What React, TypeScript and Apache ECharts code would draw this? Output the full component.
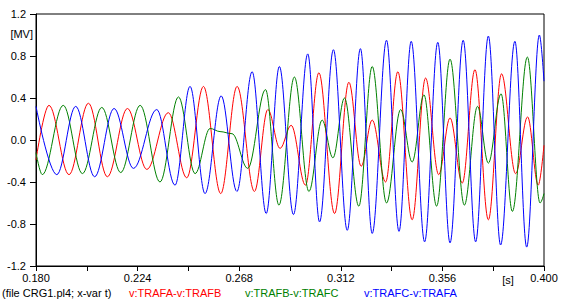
import React, { useEffect, useRef } from "react";
import * as echarts from "echarts";

// Axis ranges
const xMin = 0.18;
const xMax = 0.4;
const xStep = 0.022;
const yMin = -1.2;
const yMax = 1.2;
const yStep = 0.4;

// v:TRAFA-v:TRAFB (red) — extrema [s], [MV]
const redT = [0.1800, 0.1856, 0.1943, 0.2027, 0.2109, 0.2196, 0.2280, 0.2373, 0.2453, 0.2525, 0.2600, 0.2671, 0.2746, 0.2804, 0.2857, 0.2905, 0.2967, 0.3025, 0.3093, 0.3155, 0.3208, 0.3256, 0.3314, 0.3367, 0.3429, 0.3487, 0.3544, 0.3593, 0.3646, 0.3701, 0.3759, 0.3816, 0.3877, 0.3929, 0.3975, 0.4000];
const redV = [-0.19, 0.33, -0.33, 0.35, -0.35, 0.30, -0.28, 0.26, -0.36, 0.51, -0.51, 0.51, -0.49, 0.29, -0.08, 0.14, -0.43, 0.64, -0.70, 0.55, -0.25, 0.19, -0.40, 0.65, -0.76, 0.59, -0.33, 0.21, -0.41, 0.67, -0.76, 0.63, -0.32, 0.22, -0.43, -0.05];

// v:TRAFB-v:TRAFC (green)
const greenT = [0.1800, 0.1827, 0.1918, 0.2001, 0.2085, 0.2167, 0.2251, 0.2337, 0.2417, 0.2489, 0.2554, 0.2597, 0.2649, 0.2717, 0.2794, 0.2852, 0.2919, 0.2982, 0.3039, 0.3086, 0.3136, 0.3198, 0.3256, 0.3318, 0.3379, 0.3429, 0.3480, 0.3535, 0.3593, 0.3655, 0.3712, 0.3759, 0.3814, 0.3863, 0.3928, 0.3983, 0.4000];
const greenV = [-0.12, -0.33, 0.33, -0.32, 0.31, -0.31, 0.33, -0.40, 0.41, -0.32, 0.11, 0.08, 0.06, -0.27, 0.48, -0.62, 0.60, -0.49, 0.19, -0.17, 0.40, -0.63, 0.70, -0.60, 0.29, -0.21, 0.43, -0.63, 0.77, -0.62, 0.32, -0.22, 0.44, -0.68, 0.79, -0.60, -0.51];

// v:TRAFC-v:TRAFA (blue)
const blueT = [0.1800, 0.1890, 0.1972, 0.2054, 0.2138, 0.2222, 0.2323, 0.2402, 0.2467, 0.2532, 0.2602, 0.2670, 0.2736, 0.2797, 0.2854, 0.2915, 0.2977, 0.3028, 0.3088, 0.3148, 0.3205, 0.3256, 0.3318, 0.3372, 0.3425, 0.3483, 0.3540, 0.3593, 0.3650, 0.3704, 0.3759, 0.3812, 0.3874, 0.3925, 0.3980, 0.4000];
const blueV = [0.32, -0.33, 0.32, -0.35, 0.30, -0.27, 0.29, -0.43, 0.51, -0.51, 0.42, -0.49, 0.65, -0.70, 0.70, -0.71, 0.82, -0.78, 0.86, -0.86, 0.87, -0.89, 0.95, -0.87, 0.94, -0.97, 0.93, -0.98, 0.95, -0.97, 0.99, -1.00, 0.94, -1.02, 1.00, 0.56];

const seriesNames = ["v:TRAFA-v:TRAFB", "v:TRAFB-v:TRAFC", "v:TRAFC-v:TRAFA"];
const seriesColors = ["#ff0000", "#008000", "#0000ff"];
const fileLabel = "(file CRG1.pl4; x-var t)";
const yUnit = "[MV]";
const xUnit = "[s]";

const FONT = "'Liberation Sans', Arial, sans-serif";

function pairs(t: number[], v: number[]) {
  return t.map((x, i) => [x, v[i]]);
}

export default function App() {
  const ref = useRef<HTMLDivElement>(null);

  useEffect(() => {
    if (!ref.current) return;
    const chart = echarts.init(ref.current, undefined, { renderer: "svg" });
    const seriesData = [pairs(redT, redV), pairs(greenT, greenV), pairs(blueT, blueV)];

    chart.setOption({
      animation: false,
      backgroundColor: "#ffffff",
      grid: {
        left: 36,
        right: 23,
        top: 14,
        bottom: 36,
        show: true,
        borderColor: "#000",
        borderWidth: 1,
        backgroundColor: "transparent",
      },
      xAxis: {
        type: "value",
        min: xMin,
        max: xMax,
        interval: xStep,
        axisLine: { show: true, onZero: false, lineStyle: { color: "#000", width: 1 } },
        axisTick: { show: true, length: 5, lineStyle: { color: "#000" } },
        splitLine: { show: false },
        axisLabel: {
          show: true,
          color: "#000",
          fontFamily: FONT,
          fontSize: 11,
          margin: 6,
          showMinLabel: true,
          showMaxLabel: true,
          hideOverlap: false,
          formatter: (v: number) => {
            const k = Math.round((v - xMin) / xStep);
            return k % 2 === 0 ? (xMin + k * xStep).toFixed(3) : "";
          },
        },
      },
      yAxis: {
        type: "value",
        min: yMin,
        max: yMax,
        interval: yStep,
        axisLine: { show: true, onZero: false, lineStyle: { color: "#000", width: 1 } },
        axisTick: { show: true, length: 6, lineStyle: { color: "#000" } },
        splitLine: { show: false },
        axisLabel: {
          show: true,
          color: "#000",
          fontFamily: FONT,
          fontSize: 11,
          margin: 10,
          showMinLabel: true,
          showMaxLabel: true,
          formatter: (v: number) => {
            const r = Math.round(v * 10) / 10;
            return (r === 0 ? 0 : r).toFixed(1);
          },
        },
      },
      series: seriesData.map((d, i) => ({
        name: seriesNames[i],
        type: "line",
        data: d,
        showSymbol: false,
        symbol: "none",
        smooth: 0.36,
        smoothMonotone: "x",
        clip: true,
        lineStyle: { color: seriesColors[i], width: 1 },
        itemStyle: { color: seriesColors[i] },
        z: 2 + i,
      })),
      graphic: [
        {
          type: "text",
          x: 33,
          y: 34,
          style: { text: yUnit, fill: "#000", font: `11px ${FONT}`, align: "right", verticalAlign: "middle" },
        },
        {
          type: "text",
          x: 508,
          y: 280,
          style: { text: xUnit, fill: "#000", font: `11px ${FONT}`, align: "center", verticalAlign: "middle" },
        },
        {
          type: "text",
          x: 2,
          y: 293,
          style: { text: fileLabel, fill: "#000", font: `11px ${FONT}`, align: "left", verticalAlign: "middle" },
        },
        {
          type: "text",
          x: 129,
          y: 293,
          style: { text: seriesNames[0], fill: seriesColors[0], font: `11px ${FONT}`, align: "left", verticalAlign: "middle" },
        },
        {
          type: "text",
          x: 245,
          y: 293,
          style: { text: seriesNames[1], fill: seriesColors[1], font: `11px ${FONT}`, align: "left", verticalAlign: "middle" },
        },
        {
          type: "text",
          x: 364,
          y: 293,
          style: { text: seriesNames[2], fill: seriesColors[2], font: `11px ${FONT}`, align: "left", verticalAlign: "middle" },
        },
      ],
    });

    return () => {
      chart.dispose();
    };
  }, []);

  return (
    <div
      ref={ref}
      style={{ position: "absolute", left: 0, top: 0, width: 567, height: 302, background: "#fff" }}
    />
  );
}
